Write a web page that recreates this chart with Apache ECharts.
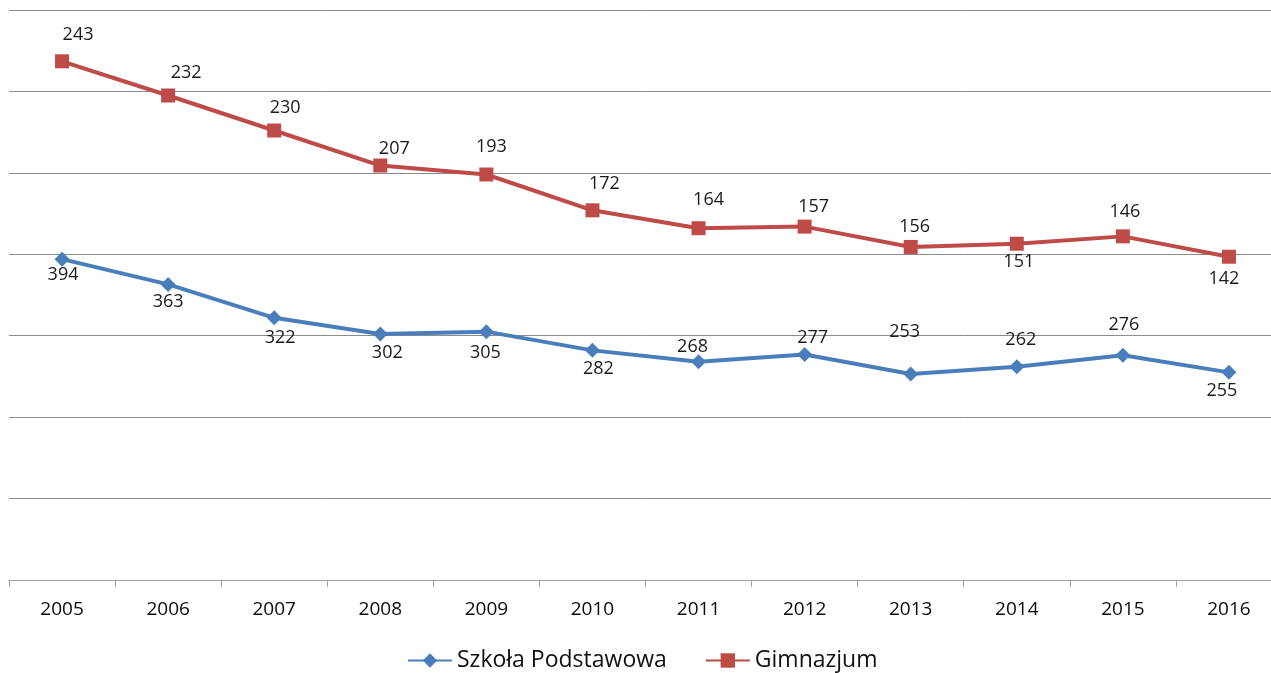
<!DOCTYPE html>
<html>
<head>
<meta charset="utf-8">
<script src="https://cdn.jsdelivr.net/npm/echarts@6/dist/echarts.min.js"></script>
<style>html,body{margin:0;padding:0;background:#fff;overflow:hidden;width:1271px;height:673px}#c{width:1282px;height:673px}</style>
</head>
<body>
<div id="c"></div>
<script>
const years = ['2005','2006','2007','2008','2009','2010','2011','2012','2013','2014','2015','2016'];
const szkola = [394,363,322,302,305,282,268,277,253,262,276,255];
const gimnazjum = [243,232,230,207,193,172,164,157,156,151,146,142];
const seriesNames = ['Szkoła Podstawowa','Gimnazjum'];

// label offsets (dx, dy) relative to marker centre
const blueOff = [[1,16],[0,17],[6,20],[7,19],[-1,21],[6,19],[-6,-15],[8,-17],[-6,-42],[4,-27],[1,-30],[-7,19]];
const redOff = [[16,-26],[18,-23],[11,-23],[14,-17],[5,-28],[12,-26],[10,-28],[9,-20],[4,-20],[2,18],[2,-24],[-5,22]];

const labelFont = {fontFamily:'Open Sans', fontSize:18, color:'#1a1a1a'};

function mk(values, offs){
  return values.map((v,i)=>({value:v, label:{show:true, position:'inside', offset:offs[i], ...labelFont}}));
}

const chart = echarts.init(document.getElementById('c'));
chart.setOption({
  animation:false,
  backgroundColor:'#fff',
  grid:{left:9, right:0, top:10, bottom:93, containLabel:false},
  legend:{
    bottom:-4, left:402, itemGap:38, itemWidth:44, itemHeight:18,
    textStyle:{fontFamily:'Open Sans', fontSize:23, color:'#111'},
    data:seriesNames
  },
  xAxis:{
    type:'category', data:years, boundaryGap:true,
    axisLine:{lineStyle:{color:'#a0a0a0', width:1}},
    axisTick:{show:true, length:7, lineStyle:{color:'#a0a0a0'}},
    axisLabel:{fontFamily:'Open Sans', fontSize:19, color:'#0a0a0a', margin:20}
  },
  yAxis:{
    type:'value', min:0, max:700, interval:100,
    axisLabel:{show:false}, axisLine:{show:false}, axisTick:{show:false},
    splitLine:{lineStyle:{color:'#8c8c8c', width:1}}
  },
  series:[
    {name:seriesNames[0], type:'line', stack:'total', data:mk(szkola, blueOff),
     symbol:'diamond', symbolSize:15,
     lineStyle:{color:'#4a7ebb', width:4}, itemStyle:{color:'#4a7ebb'}},
    {name:seriesNames[1], type:'line', stack:'total', data:mk(gimnazjum, redOff),
     symbol:'rect', symbolSize:14,
     lineStyle:{color:'#be4b48', width:4}, itemStyle:{color:'#be4b48'}}
  ]
});
</script>
</body>
</html>
